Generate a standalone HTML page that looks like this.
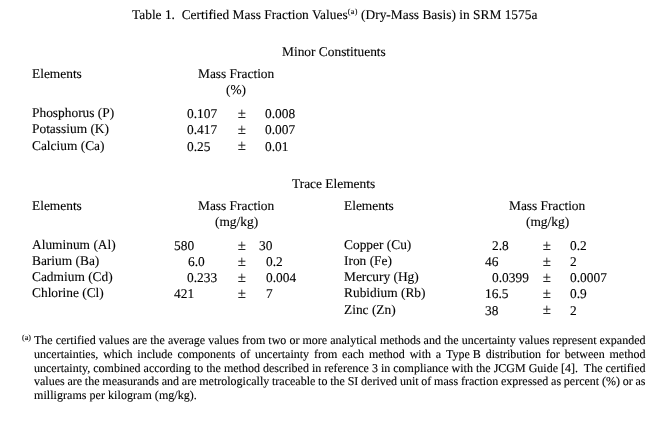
<!DOCTYPE html>
<html><head><meta charset="utf-8"><style>
html,body{margin:0;padding:0;background:#fff;}
body{width:660px;height:429px;position:relative;overflow:hidden;font-family:"Liberation Serif",serif;color:#000;text-rendering:geometricPrecision;-webkit-text-stroke:0.12px #000;}
.pm{position:absolute;}
.t{position:absolute;white-space:nowrap;will-change:transform;transform:scaleY(1.0);letter-spacing:0px;}
sup{font-size:8px;line-height:0;vertical-align:5.5px;letter-spacing:0.4px;}
</style></head><body>
<div class="t" style="left:132px;top:8.48px;font-size:13.4px;line-height:13.4px;transform-origin:0 11.22px;">Table 1.&nbsp; Certified Mass Fraction Values<sup>(a)</sup> (Dry-Mass Basis) in SRM 1575a</div>
<div class="t" style="left:282.4px;top:44.58px;font-size:13.4px;line-height:13.4px;transform-origin:0 11.22px;">Minor Constituents</div>
<div class="t" style="left:32px;top:67.08px;font-size:13.4px;line-height:13.4px;transform-origin:0 11.22px;">Elements</div>
<div class="t" style="left:198.3px;top:66.88px;font-size:13.4px;line-height:13.4px;transform-origin:0 11.22px;">Mass Fraction</div>
<div class="t" style="left:226.2px;top:83.08px;font-size:13.4px;line-height:13.4px;transform-origin:0 11.22px;">(%)</div>
<div class="t" style="left:32px;top:105.88px;font-size:13.4px;line-height:13.4px;transform-origin:0 11.22px;">Phosphorus (P)</div>
<div class="t" style="left:187.1px;top:107.08px;font-size:13.4px;line-height:13.4px;transform-origin:0 11.22px;">0.107</div>
<svg class="pm" style="left:238.30px;top:108.80px" width="8" height="10" viewBox="0 0 8 10"><path d="M3.8 0.6V7.4" stroke="#333" stroke-width="1" fill="none"/><path d="M0.3 4.2H7.4M0.3 8.5H7.4" stroke="#222" stroke-width="1" fill="none"/></svg>
<div class="t" style="left:265.4px;top:107.08px;font-size:13.4px;line-height:13.4px;transform-origin:0 11.22px;">0.008</div>
<div class="t" style="left:32px;top:122.23px;font-size:13.4px;line-height:13.4px;transform-origin:0 11.22px;">Potassium (K)</div>
<div class="t" style="left:187.1px;top:123.38px;font-size:13.4px;line-height:13.4px;transform-origin:0 11.22px;">0.417</div>
<svg class="pm" style="left:238.30px;top:125.10px" width="8" height="10" viewBox="0 0 8 10"><path d="M3.8 0.6V7.4" stroke="#333" stroke-width="1" fill="none"/><path d="M0.3 4.2H7.4M0.3 8.5H7.4" stroke="#222" stroke-width="1" fill="none"/></svg>
<div class="t" style="left:265.4px;top:123.38px;font-size:13.4px;line-height:13.4px;transform-origin:0 11.22px;">0.007</div>
<div class="t" style="left:32px;top:138.58px;font-size:13.4px;line-height:13.4px;transform-origin:0 11.22px;">Calcium (Ca)</div>
<div class="t" style="left:187.1px;top:139.68px;font-size:13.4px;line-height:13.4px;transform-origin:0 11.22px;">0.25</div>
<svg class="pm" style="left:238.30px;top:141.40px" width="8" height="10" viewBox="0 0 8 10"><path d="M3.8 0.6V7.4" stroke="#333" stroke-width="1" fill="none"/><path d="M0.3 4.2H7.4M0.3 8.5H7.4" stroke="#222" stroke-width="1" fill="none"/></svg>
<div class="t" style="left:265.4px;top:139.68px;font-size:13.4px;line-height:13.4px;transform-origin:0 11.22px;">0.01</div>
<div class="t" style="left:292.2px;top:176.68px;font-size:13.4px;line-height:13.4px;transform-origin:0 11.22px;">Trace Elements</div>
<div class="t" style="left:32px;top:199.08px;font-size:13.4px;line-height:13.4px;transform-origin:0 11.22px;">Elements</div>
<div class="t" style="left:197.7px;top:199.08px;font-size:13.4px;line-height:13.4px;transform-origin:0 11.22px;">Mass Fraction</div>
<div class="t" style="left:214.5px;top:214.78px;font-size:13.4px;line-height:13.4px;transform-origin:0 11.22px;">(mg/kg)</div>
<div class="t" style="left:343.5px;top:199.08px;font-size:13.4px;line-height:13.4px;transform-origin:0 11.22px;">Elements</div>
<div class="t" style="left:509.0px;top:199.08px;font-size:13.4px;line-height:13.4px;transform-origin:0 11.22px;">Mass Fraction</div>
<div class="t" style="left:525.8px;top:215.18px;font-size:13.4px;line-height:13.4px;transform-origin:0 11.22px;">(mg/kg)</div>
<div class="t" style="left:32px;top:237.78px;font-size:13.4px;line-height:13.4px;transform-origin:0 11.22px;">Aluminum (Al)</div>
<div class="t" style="left:173.9px;top:238.88px;font-size:13.4px;line-height:13.4px;transform-origin:0 11.22px;">580</div>
<svg class="pm" style="left:238.10px;top:240.60px" width="8" height="10" viewBox="0 0 8 10"><path d="M3.8 0.6V7.4" stroke="#333" stroke-width="1" fill="none"/><path d="M0.3 4.2H7.4M0.3 8.5H7.4" stroke="#222" stroke-width="1" fill="none"/></svg>
<div class="t" style="left:258.6px;top:238.88px;font-size:13.4px;line-height:13.4px;transform-origin:0 11.22px;">30</div>
<div class="t" style="left:32px;top:253.98px;font-size:13.4px;line-height:13.4px;transform-origin:0 11.22px;">Barium (Ba)</div>
<div class="t" style="left:188px;top:255.08px;font-size:13.4px;line-height:13.4px;transform-origin:0 11.22px;">6.0</div>
<svg class="pm" style="left:238.10px;top:256.80px" width="8" height="10" viewBox="0 0 8 10"><path d="M3.8 0.6V7.4" stroke="#333" stroke-width="1" fill="none"/><path d="M0.3 4.2H7.4M0.3 8.5H7.4" stroke="#222" stroke-width="1" fill="none"/></svg>
<div class="t" style="left:265.5px;top:255.08px;font-size:13.4px;line-height:13.4px;transform-origin:0 11.22px;">0.2</div>
<div class="t" style="left:32px;top:270.18px;font-size:13.4px;line-height:13.4px;transform-origin:0 11.22px;">Cadmium (Cd)</div>
<div class="t" style="left:187px;top:271.28px;font-size:13.4px;line-height:13.4px;transform-origin:0 11.22px;">0.233</div>
<svg class="pm" style="left:238.10px;top:273.00px" width="8" height="10" viewBox="0 0 8 10"><path d="M3.8 0.6V7.4" stroke="#333" stroke-width="1" fill="none"/><path d="M0.3 4.2H7.4M0.3 8.5H7.4" stroke="#222" stroke-width="1" fill="none"/></svg>
<div class="t" style="left:265.5px;top:271.28px;font-size:13.4px;line-height:13.4px;transform-origin:0 11.22px;">0.004</div>
<div class="t" style="left:32px;top:286.38px;font-size:13.4px;line-height:13.4px;transform-origin:0 11.22px;">Chlorine (Cl)</div>
<div class="t" style="left:173.9px;top:287.48px;font-size:13.4px;line-height:13.4px;transform-origin:0 11.22px;">421</div>
<svg class="pm" style="left:238.10px;top:289.20px" width="8" height="10" viewBox="0 0 8 10"><path d="M3.8 0.6V7.4" stroke="#333" stroke-width="1" fill="none"/><path d="M0.3 4.2H7.4M0.3 8.5H7.4" stroke="#222" stroke-width="1" fill="none"/></svg>
<div class="t" style="left:265.8px;top:287.48px;font-size:13.4px;line-height:13.4px;transform-origin:0 11.22px;">7</div>
<div class="t" style="left:343.5px;top:237.78px;font-size:13.4px;line-height:13.4px;transform-origin:0 11.22px;">Copper (Cu)</div>
<div class="t" style="left:491.5px;top:238.88px;font-size:13.4px;line-height:13.4px;transform-origin:0 11.22px;">2.8</div>
<svg class="pm" style="left:542.70px;top:240.60px" width="8" height="10" viewBox="0 0 8 10"><path d="M3.8 0.6V7.4" stroke="#333" stroke-width="1" fill="none"/><path d="M0.3 4.2H7.4M0.3 8.5H7.4" stroke="#222" stroke-width="1" fill="none"/></svg>
<div class="t" style="left:570.2px;top:238.88px;font-size:13.4px;line-height:13.4px;transform-origin:0 11.22px;">0.2</div>
<div class="t" style="left:343.5px;top:253.98px;font-size:13.4px;line-height:13.4px;transform-origin:0 11.22px;">Iron (Fe)</div>
<div class="t" style="left:485px;top:255.08px;font-size:13.4px;line-height:13.4px;transform-origin:0 11.22px;">46</div>
<svg class="pm" style="left:542.70px;top:256.80px" width="8" height="10" viewBox="0 0 8 10"><path d="M3.8 0.6V7.4" stroke="#333" stroke-width="1" fill="none"/><path d="M0.3 4.2H7.4M0.3 8.5H7.4" stroke="#222" stroke-width="1" fill="none"/></svg>
<div class="t" style="left:570.2px;top:255.08px;font-size:13.4px;line-height:13.4px;transform-origin:0 11.22px;">2</div>
<div class="t" style="left:343.5px;top:270.18px;font-size:13.4px;line-height:13.4px;transform-origin:0 11.22px;">Mercury (Hg)</div>
<div class="t" style="left:491.5px;top:271.28px;font-size:13.4px;line-height:13.4px;transform-origin:0 11.22px;">0.0399</div>
<svg class="pm" style="left:542.70px;top:273.00px" width="8" height="10" viewBox="0 0 8 10"><path d="M3.8 0.6V7.4" stroke="#333" stroke-width="1" fill="none"/><path d="M0.3 4.2H7.4M0.3 8.5H7.4" stroke="#222" stroke-width="1" fill="none"/></svg>
<div class="t" style="left:570.2px;top:271.28px;font-size:13.4px;line-height:13.4px;transform-origin:0 11.22px;">0.0007</div>
<div class="t" style="left:343.5px;top:286.38px;font-size:13.4px;line-height:13.4px;transform-origin:0 11.22px;">Rubidium (Rb)</div>
<div class="t" style="left:485px;top:287.48px;font-size:13.4px;line-height:13.4px;transform-origin:0 11.22px;">16.5</div>
<svg class="pm" style="left:542.70px;top:289.20px" width="8" height="10" viewBox="0 0 8 10"><path d="M3.8 0.6V7.4" stroke="#333" stroke-width="1" fill="none"/><path d="M0.3 4.2H7.4M0.3 8.5H7.4" stroke="#222" stroke-width="1" fill="none"/></svg>
<div class="t" style="left:570.2px;top:287.48px;font-size:13.4px;line-height:13.4px;transform-origin:0 11.22px;">0.9</div>
<div class="t" style="left:343.5px;top:302.58px;font-size:13.4px;line-height:13.4px;transform-origin:0 11.22px;">Zinc (Zn)</div>
<div class="t" style="left:485px;top:303.68px;font-size:13.4px;line-height:13.4px;transform-origin:0 11.22px;">38</div>
<svg class="pm" style="left:542.70px;top:305.40px" width="8" height="10" viewBox="0 0 8 10"><path d="M3.8 0.6V7.4" stroke="#333" stroke-width="1" fill="none"/><path d="M0.3 4.2H7.4M0.3 8.5H7.4" stroke="#222" stroke-width="1" fill="none"/></svg>
<div class="t" style="left:570.2px;top:303.68px;font-size:13.4px;line-height:13.4px;transform-origin:0 11.22px;">2</div>
<div class="t" style="left:22px;top:331.75px;font-size:12px;line-height:12px;transform-origin:0 10.05px;"><span style="font-size:8px;vertical-align:4px">(a)</span></div>
<div class="t" style="left:34px;top:334.15px;font-size:12px;line-height:12px;transform-origin:0 10.05px;width:611.5px;text-align:justify;text-align-last:justify;white-space:normal;">The certified values are the average values from two or more analytical methods and the uncertainty values represent expanded</div>
<div class="t" style="left:34px;top:347.85px;font-size:12px;line-height:12px;transform-origin:0 10.05px;width:611.5px;text-align:justify;text-align-last:justify;white-space:normal;">uncertainties, which include components of uncertainty from each method with a <span style="display:inline-block">Type B</span> distribution for between method</div>
<div class="t" style="left:34px;top:361.55px;font-size:12px;line-height:12px;transform-origin:0 10.05px;width:611.5px;text-align:justify;text-align-last:justify;white-space:normal;">uncertainty, combined according to the method described in reference 3 in compliance with the JCGM Guide [4].&nbsp; The certified</div>
<div class="t" style="left:34px;top:375.25px;font-size:12px;line-height:12px;transform-origin:0 10.05px;width:611.5px;text-align:justify;text-align-last:justify;white-space:normal;word-spacing:-0.5px;">values are the measurands and are metrologically traceable to the SI derived unit of mass fraction expressed as percent (%) or as</div>
<div class="t" style="left:34px;top:388.95px;font-size:12px;line-height:12px;transform-origin:0 10.05px;letter-spacing:0.05px;">milligrams per kilogram (mg/kg).</div>
</body></html>
